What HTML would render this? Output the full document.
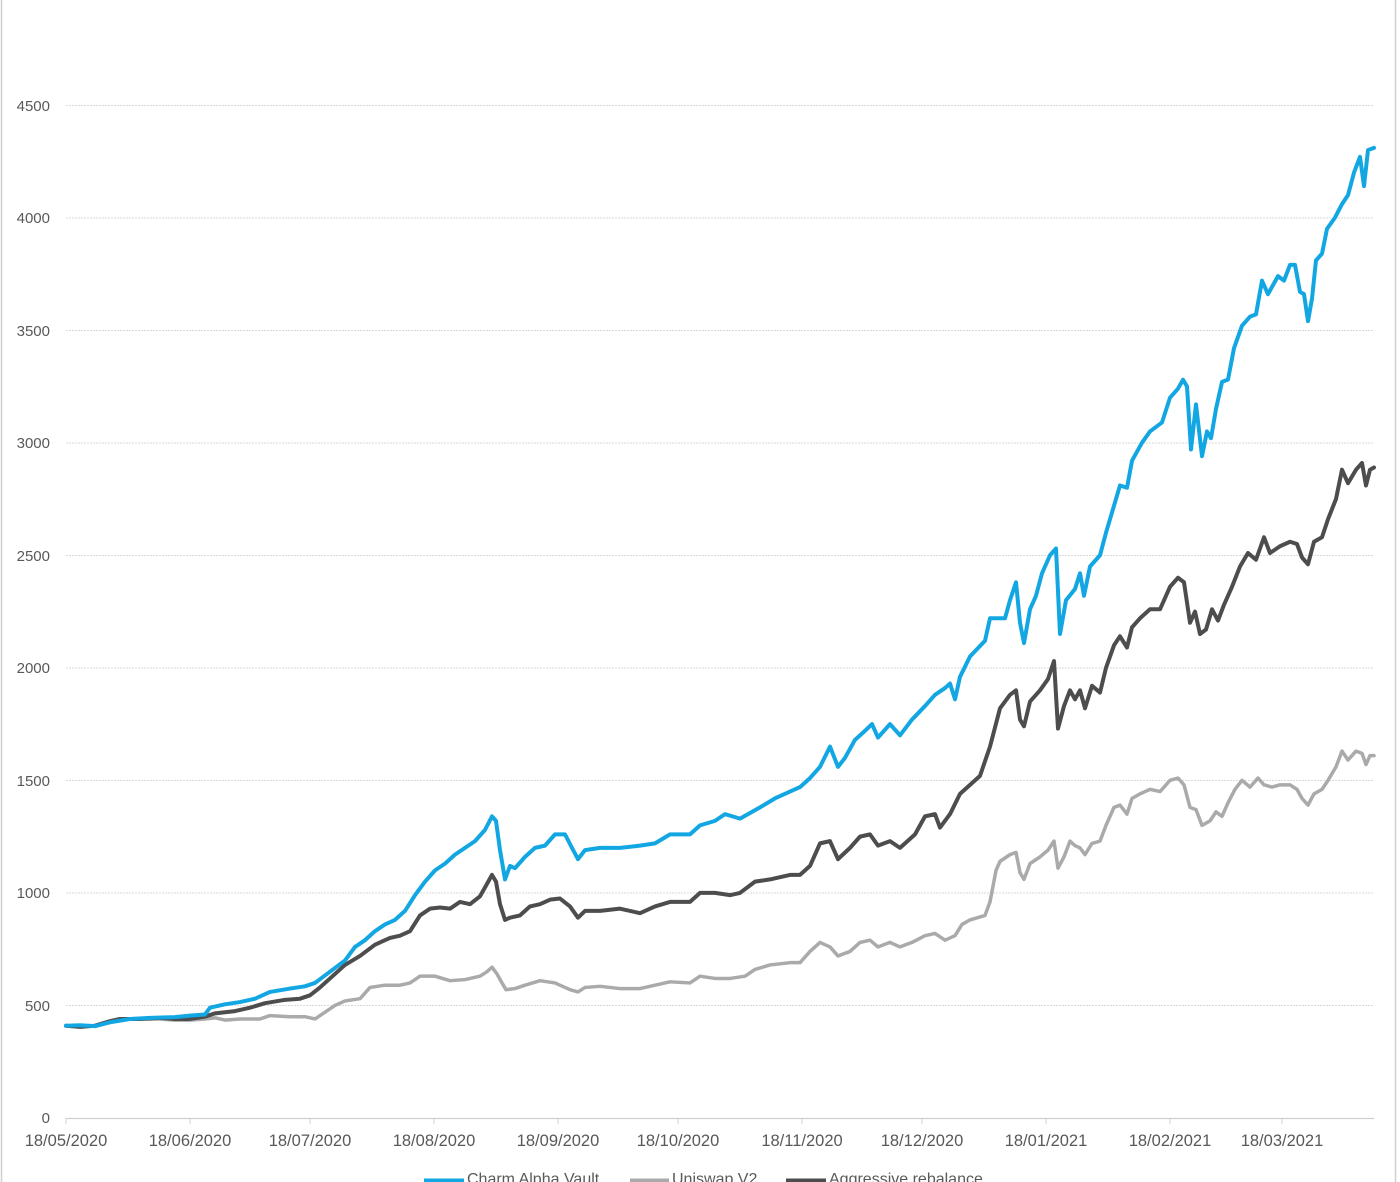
<!DOCTYPE html>
<html><head><meta charset="utf-8"><style>
html,body{margin:0;padding:0;background:#fff;}
svg{display:block;font-family:"Liberation Sans",sans-serif;}
</style></head><body>
<svg width="1400" height="1182" viewBox="0 0 1400 1182" xmlns="http://www.w3.org/2000/svg">
<rect x="0" y="0" width="1400" height="1182" fill="#fff"/>
<line x1="1.5" y1="0" x2="1.5" y2="1182" stroke="#d0d0d0" stroke-width="1.5"/>
<line x1="1395.5" y1="0" x2="1395.5" y2="1182" stroke="#d0d0d0" stroke-width="1.5"/>
<g stroke="#d9d9d9" stroke-width="1" stroke-dasharray="2,1">
<line x1="66" x2="1374" y1="105.5" y2="105.5"/>
<line x1="66" x2="1374" y1="218" y2="218"/>
<line x1="66" x2="1374" y1="330.5" y2="330.5"/>
<line x1="66" x2="1374" y1="443" y2="443"/>
<line x1="66" x2="1374" y1="555.5" y2="555.5"/>
<line x1="66" x2="1374" y1="668" y2="668"/>
<line x1="66" x2="1374" y1="780.5" y2="780.5"/>
<line x1="66" x2="1374" y1="893" y2="893"/>
<line x1="66" x2="1374" y1="1005.5" y2="1005.5"/>
</g>
<line x1="66" x2="1374" y1="1118.5" y2="1118.5" stroke="#d0d0d0" stroke-width="1.2"/>
<g stroke="#d0d0d0" stroke-width="1">
<line x1="66" x2="66" y1="1118" y2="1124"/><line x1="190" x2="190" y1="1118" y2="1124"/>
<line x1="310" x2="310" y1="1118" y2="1124"/><line x1="434" x2="434" y1="1118" y2="1124"/>
<line x1="558" x2="558" y1="1118" y2="1124"/><line x1="678" x2="678" y1="1118" y2="1124"/>
<line x1="802" x2="802" y1="1118" y2="1124"/><line x1="922" x2="922" y1="1118" y2="1124"/>
<line x1="1046" x2="1046" y1="1118" y2="1124"/><line x1="1170" x2="1170" y1="1118" y2="1124"/>
<line x1="1282" x2="1282" y1="1118" y2="1124"/>
</g>
<g font-size="15" fill="#595959" text-anchor="end">
<text x="50" y="-3">5000</text>
<text x="50" y="111">4500</text><text x="50" y="223">4000</text><text x="50" y="336">3500</text>
<text x="50" y="448">3000</text><text x="50" y="561">2500</text><text x="50" y="673">2000</text>
<text x="50" y="786">1500</text><text x="50" y="898">1000</text><text x="50" y="1011">500</text>
<text x="50" y="1123">0</text>
</g>
<g font-size="16.5" fill="#595959" text-anchor="middle">
<text x="66" y="1146">18/05/2020</text><text x="190" y="1146">18/06/2020</text>
<text x="310" y="1146">18/07/2020</text><text x="434" y="1146">18/08/2020</text>
<text x="558" y="1146">18/09/2020</text><text x="678" y="1146">18/10/2020</text>
<text x="802" y="1146">18/11/2020</text><text x="922" y="1146">18/12/2020</text>
<text x="1046" y="1146">18/01/2021</text><text x="1170" y="1146">18/02/2021</text>
<text x="1282" y="1146">18/03/2021</text>
</g>
<g transform="translate(0,1118) scale(1,-0.2251)" fill="none" stroke-linejoin="round" stroke-linecap="round">
<polyline vector-effect="non-scaling-stroke" stroke="#aaaaaa" stroke-width="3.5" points="66,410 80,405 95,410 110,430 130,440 160,440 175,435 190,435 205,440 215,445 225,435 240,440 260,440 270,455 290,450 305,450 315,440 325,470 335,500 345,520 360,530 370,580 385,590 400,590 410,600 420,630 435,630 450,610 465,615 480,630 487,650 492,670 497,640 502,600 506,570 515,575 525,590 540,610 555,600 570,570 578,560 585,580 600,585 620,575 640,575 655,590 670,605 690,600 700,630 715,620 730,620 745,630 755,660 770,680 790,690 800,690 810,740 820,780 830,760 838,720 850,740 860,780 870,790 878,760 890,780 900,760 912,780 925,810 935,820 945,790 955,810 962,860 970,880 985,900 990,960 996,1100 1000,1140 1010,1170 1016,1180 1020,1090 1024,1060 1030,1130 1040,1160 1048,1190 1054,1230 1058,1110 1064,1160 1070,1230 1075,1210 1080,1200 1085,1170 1092,1220 1100,1230 1106,1300 1114,1380 1120,1390 1127,1350 1132,1420 1140,1440 1150,1460 1160,1450 1170,1500 1178,1510 1184,1480 1190,1380 1196,1370 1202,1300 1210,1320 1216,1360 1222,1340 1228,1400 1235,1460 1242,1500 1250,1470 1258,1510 1264,1480 1272,1470 1280,1480 1290,1480 1297,1460 1302,1420 1308,1390 1314,1440 1322,1460 1328,1500 1336,1560 1342,1630 1348,1590 1356,1630 1362,1620 1366,1570 1370,1610 1374,1610"/>
<polyline vector-effect="non-scaling-stroke" stroke="#4d4d4d" stroke-width="4" points="66,410 80,405 95,410 110,430 120,440 140,440 160,445 175,440 190,440 205,450 215,465 235,475 250,490 265,510 285,525 300,530 310,545 320,580 335,640 345,680 360,720 375,770 390,800 400,810 410,830 420,900 430,930 440,935 450,930 460,960 470,950 480,985 487,1040 492,1080 496,1050 500,950 505,880 510,890 520,900 530,940 540,950 550,970 560,975 570,940 578,890 585,920 600,920 620,930 640,910 655,940 670,960 690,960 700,1000 715,1000 730,990 740,1000 755,1050 770,1060 790,1080 800,1080 810,1120 820,1220 830,1230 838,1150 850,1200 860,1250 870,1260 878,1210 890,1230 900,1200 915,1260 925,1340 935,1350 940,1290 950,1350 960,1440 970,1480 980,1520 990,1650 1000,1820 1010,1880 1016,1900 1020,1770 1024,1740 1030,1850 1040,1900 1048,1950 1054,2030 1058,1730 1064,1830 1070,1900 1075,1860 1080,1900 1085,1820 1092,1920 1100,1890 1106,2000 1114,2100 1120,2140 1127,2090 1132,2180 1140,2220 1150,2260 1160,2260 1170,2360 1178,2400 1184,2380 1190,2200 1195,2250 1200,2150 1206,2170 1212,2260 1218,2210 1224,2280 1232,2360 1240,2450 1248,2510 1256,2480 1264,2580 1270,2510 1280,2540 1290,2560 1297,2550 1302,2490 1308,2460 1314,2560 1322,2580 1328,2660 1336,2750 1342,2880 1348,2820 1356,2880 1362,2910 1366,2810 1370,2880 1374,2890"/>
<polyline vector-effect="non-scaling-stroke" stroke="#12a7e3" stroke-width="4" points="66,410 80,412 95,408 110,425 130,440 150,445 175,448 190,455 205,460 210,490 225,505 240,515 255,530 270,560 290,575 305,585 315,600 330,650 345,700 355,760 365,790 375,830 385,860 395,880 405,920 415,990 425,1050 435,1100 445,1130 455,1170 465,1200 475,1230 485,1280 492,1340 496,1320 500,1190 505,1060 510,1120 515,1110 525,1160 535,1200 545,1210 555,1260 565,1260 572,1200 578,1150 585,1190 600,1200 620,1200 640,1210 655,1220 670,1260 690,1260 700,1300 715,1320 725,1350 740,1330 760,1380 775,1420 790,1450 800,1470 810,1510 820,1560 830,1650 838,1560 845,1600 855,1680 865,1720 872,1750 878,1690 890,1750 900,1700 912,1770 925,1830 935,1880 945,1910 950,1930 955,1860 960,1960 970,2050 985,2120 990,2220 1005,2220 1010,2300 1016,2380 1020,2200 1024,2110 1030,2260 1036,2320 1042,2420 1050,2500 1056,2530 1060,2150 1066,2300 1075,2350 1080,2420 1084,2320 1090,2450 1100,2500 1106,2600 1114,2720 1120,2810 1127,2800 1132,2920 1142,3000 1150,3050 1162,3090 1170,3200 1178,3240 1183,3280 1187,3250 1191,2970 1196,3170 1202,2940 1207,3050 1211,3020 1216,3150 1222,3270 1228,3280 1234,3420 1242,3520 1250,3560 1256,3570 1262,3720 1268,3660 1278,3740 1284,3720 1290,3790 1295,3790 1300,3670 1304,3660 1308,3540 1312,3640 1316,3810 1322,3840 1327,3950 1335,4000 1342,4060 1348,4100 1354,4200 1360,4270 1364,4140 1368,4300 1374,4310"/>
</g>
<g font-size="16" fill="#595959">
<line x1="424" x2="464" y1="1181" y2="1181" stroke="#12a7e3" stroke-width="5"/>
<text x="467" y="1184">Charm Alpha Vault</text>
<line x1="630" x2="669" y1="1181" y2="1181" stroke="#aaaaaa" stroke-width="5"/>
<text x="672" y="1184">Uniswap V2</text>
<line x1="786" x2="826" y1="1181" y2="1181" stroke="#4d4d4d" stroke-width="5"/>
<text x="829" y="1184">Aggressive rebalance</text>
</g>
</svg>
</body></html>
